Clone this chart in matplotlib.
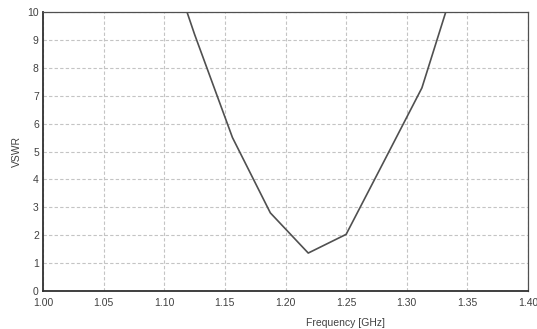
import matplotlib
matplotlib.use("Agg")
import matplotlib.pyplot as plt

freq_ghz = [1.09375, 1.125, 1.15625, 1.1875, 1.21875, 1.25, 1.28125, 1.3125, 1.34375]
vswr = [13.2, 9.2, 5.5, 2.8, 1.36, 2.03, 4.65, 7.28, 11.6]
x_ticks = [1.00, 1.05, 1.10, 1.15, 1.20, 1.25, 1.30, 1.35, 1.40]
y_ticks = list(range(0, 11))

plt.rcParams['font.family'] = ['Liberation Sans', 'DejaVu Sans']

fig = plt.figure(figsize=(5.37, 3.29), dpi=100)
W, H = 537, 329
left, right, top, bottom = 43, 528, 12, 291
ax = fig.add_axes([left / W, 1 - bottom / H, (right - left) / W, (bottom - top) / H])

ax.plot(freq_ghz, vswr, color='#505050', linewidth=1.2, clip_on=True)
ax.set_xlim(1.0, 1.4)
ax.set_ylim(0, 10)
ax.set_xticks(x_ticks)
ax.set_xticklabels([f"{v:.2f}" for v in x_ticks])
ax.set_yticks(y_ticks)
ax.grid(True, color='#c4c4c4', linestyle=(0, (3, 2)), linewidth=0.8)
ax.tick_params(length=0, labelsize=7.5, colors='#404040', pad=3)
ax.tick_params(axis='x', pad=5)

for s in ['left', 'bottom']:
    ax.spines[s].set_color('#303030')
    ax.spines[s].set_linewidth(1.3)
for s in ['top', 'right']:
    ax.spines[s].set_color('#505050')
    ax.spines[s].set_linewidth(0.9)

ax.set_ylabel('VSWR', fontsize=7.5, color='#404040')
ax.set_xlabel('Frequency [GHz]', fontsize=7.5, color='#404040')
ax.xaxis.set_label_coords((346 - left) / (right - left), -(318 - bottom) / (bottom - top))
ax.yaxis.set_label_coords(-(21) / (right - left), 0.5)

fig.savefig('out.png', dpi=100)
